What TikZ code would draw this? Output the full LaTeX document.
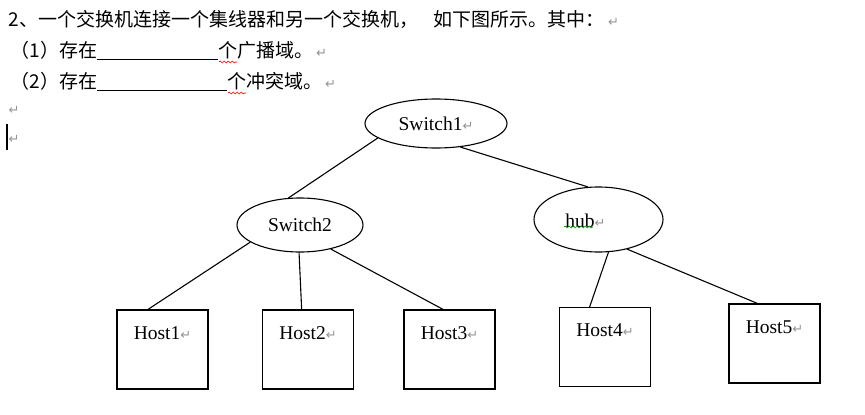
\documentclass[tikz,border=0pt]{standalone}
\usepackage{fontspec}
\setmainfont{Liberation Serif}
\newfontfamily\cjk{Noto Sans CJK SC}
\newfontfamily\arrfont{DejaVu Sans}
\usetikzlibrary{shapes.geometric,decorations.pathmorphing}
\newcommand{\retmark}{{\arrfont\fontsize{13}{13}\selectfont\color{gray!85}↵}}

\begin{document}
\begin{tikzpicture}[x=1pt, y=-1pt, line width=1.1pt,
    cjktxt/.style={inner sep=0pt, anchor=base west, font=\cjk\fontsize{19}{19}\selectfont},
    swnode/.style={ellipse, draw, inner sep=0pt, font=\fontsize{19.5}{20}\selectfont},
    hostbox/.style={rectangle, draw, inner sep=0pt, minimum width=91pt,
      text height=29pt, text depth=50pt, font=\fontsize{19.5}{20}\selectfont},
    wavy/.style={line width=0.6pt, decorate, decoration={snake, amplitude=1pt, segment length=4pt}}]
        \useasboundingbox (0,0) rectangle (865,415);
        % question text
        \node[cjktxt] (q0) at (8,27) {2、一个交换机连接一个集线器和另一个交换机，\hspace{15pt}如下图所示。其中：\hspace{4pt}\retmark};
        \node[cjktxt] (q1) at (10,57) {（1）存在\rule[-3pt]{121pt}{0.9pt}个广播域。\hspace{3pt}\retmark};
        \node[cjktxt] (q2) at (10,88) {（2）存在\rule[-3pt]{130pt}{0.9pt}个冲突域。\hspace{3pt}\retmark};
        \draw[wavy, red] (219,62) -- (237,62);
        \draw[wavy, red] (228,93) -- (246,93);
        \node[inner sep=0pt, anchor=base west] (p3) at (8,114) {\retmark};
        \node[inner sep=0pt, anchor=base west] (p4) at (8,143) {\retmark};
        \draw[line width=2pt] (7,124) -- (7,150);
        % switches and hub
        \node[swnode, minimum width=142pt, minimum height=49pt] (sw1) at (436,123.5) {Switch1\retmark};
        \node[swnode, minimum width=126pt, minimum height=54pt] (sw2) at (300,225) {Switch2};
        \node[swnode, minimum width=129pt, minimum height=65pt,
          label={[xshift=-13pt, yshift=-1pt, font=\fontsize{19.5}{20}\selectfont]center:{hub\retmark}}] (hub) at (598.5,219.5) {};
        \draw[wavy, green!60!black] (564,227) -- (593,227);
        % hosts
        \foreach \n/\x/\y in {1/162.5/349.5, 2/308/349.5, 3/449.5/349.5, 4/605/347, 5/774.5/343.5}{
          \node[hostbox] (h\n) at (\x,\y) {Host\n\retmark};
        }
        \foreach \a/\b in {sw1.194/sw2.113, sw1.316/hub.108, sw2.199/h1.110, sw2.268/h2.99,
                           sw2.322/h3.99, hub.287/h4.111, hub.314/h5.113}{
          \draw (\a) -- (\b);
        }
      \end{tikzpicture}
\end{document}
